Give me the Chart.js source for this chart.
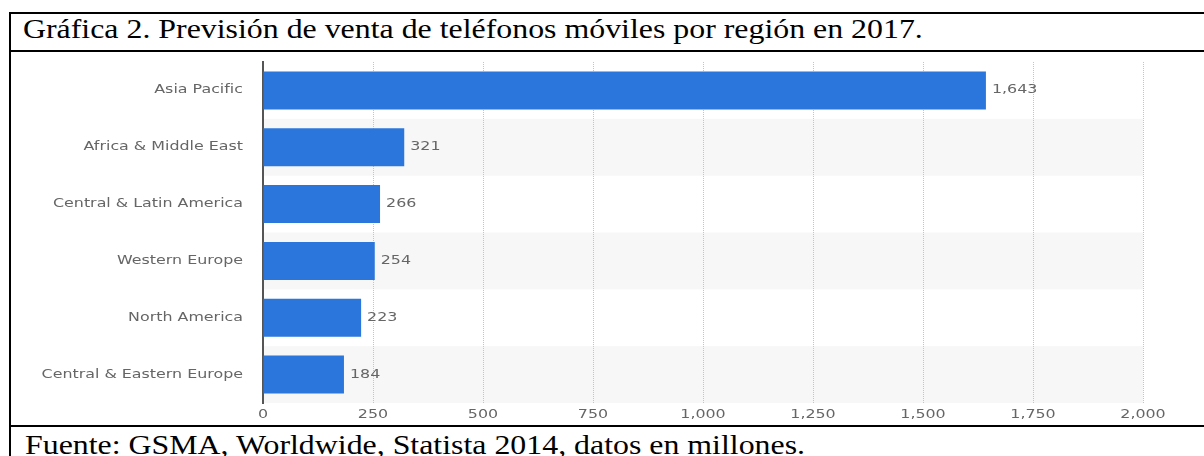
<!DOCTYPE html>
<html lang="es">
<head>
<meta charset="utf-8">
<title>Gráfica 2</title>
<script src="https://cdn.jsdelivr.net/npm/chart.js@4/dist/chart.umd.min.js"></script>
<style>
    body { margin: 0; background: #fff; width: 1204px; height: 456px; overflow: hidden; position: relative; }
    .line { position: absolute; background: #000; }
    .caption {
        position: absolute;
        font-family: "Liberation Serif", "Times New Roman", serif;
        font-size: 27px;
        line-height: 27px;
        color: #000;
        white-space: nowrap;
        transform: scaleX(1.18);
        transform-origin: left top;
    }
    #chart-box { position: absolute; left: 11px; top: 52px; width: 1193px; height: 373px; }
</style>
</head>
<body>
<div class="line" style="left:9px; top:12px; width:1195px; height:2px;"></div>
<div class="line" style="left:9px; top:12px; width:2px; height:444px;"></div>
<div class="line" style="left:9px; top:50px; width:1195px; height:2px;"></div>
<div class="line" style="left:9px; top:425px; width:1195px; height:2px;"></div>
<div class="caption" style="left:23px; top:16px;">Gráfica 2. Previsión de venta de teléfonos móviles por región en 2017.</div>
<div class="caption" style="left:25px; top:432px;">Fuente: GSMA, Worldwide, Statista 2014, datos en millones.</div>
<div id="chart-box"><canvas id="chart-canvas"></canvas></div>

<script>
const regions = [
    "Asia Pacific",
    "Africa & Middle East",
    "Central & Latin America",
    "Western Europe",
    "North America",
    "Central & Eastern Europe"
];
const sales = [1643, 321, 266, 254, 223, 184];
const axisMin = 0;
const axisMax = 2000;
const axisStep = 250;

const labelFont = { family: "'DejaVu Sans', Verdana, sans-serif", size: 11.5 };
const labelColor = "#666";
const textStretch = 1.38;

function formatNumber(value) {
    return Number(value).toLocaleString("en-US");
}

const canvas = document.getElementById("chart-canvas");

// the source screenshot is stretched sideways, so stretch every text around its anchor
const ctx2d = canvas.getContext("2d");
const plainFillText = ctx2d.fillText.bind(ctx2d);
ctx2d.fillText = function (text, x, y, maxWidth) {
    ctx2d.save();
    ctx2d.translate(x, y);
    ctx2d.scale(textStretch, 1);
    plainFillText(text, 0, 0, maxWidth);
    ctx2d.restore();
};

// alternating light bands behind the rows
const bandsPlugin = {
    id: "bands",
    beforeDraw(chart) {
        const { ctx, chartArea } = chart;
        const step = (chartArea.bottom - chartArea.top) / regions.length;
        ctx.save();
        ctx.fillStyle = "#f7f7f7";
        regions.forEach((region, i) => {
            if (i % 2 === 1) {
                ctx.fillRect(chartArea.left, chartArea.top + i * step, chartArea.right - chartArea.left, step);
            }
        });
        ctx.restore();
    }
};

// value next to each bar
const valueLabels = {
    id: "valueLabels",
    afterDatasetsDraw(chart) {
        const { ctx } = chart;
        const meta = chart.getDatasetMeta(0);
        ctx.save();
        ctx.font = `${labelFont.size}px ${labelFont.family}`;
        ctx.fillStyle = labelColor;
        ctx.textAlign = "left";
        ctx.textBaseline = "middle";
        meta.data.forEach((bar, i) => {
            ctx.fillText(formatNumber(sales[i]), bar.x + 6, bar.y);
        });
        ctx.restore();
    }
};

new Chart(canvas, {
    type: "bar",
    data: {
        labels: regions,
        datasets: [{
            data: sales,
            backgroundColor: "#2a76dc",
            borderWidth: 0,
            categoryPercentage: 1,
            barPercentage: 0.67
        }]
    },
    options: {
        indexAxis: "y",
        responsive: true,
        maintainAspectRatio: false,
        animation: false,
        devicePixelRatio: 1,
        layout: { padding: { left: 0, right: 61, top: 10, bottom: 0 } },
        plugins: {
            legend: { display: false },
            tooltip: { enabled: false }
        },
        scales: {
            x: {
                min: axisMin,
                max: axisMax,
                afterFit(scale) {
                    scale.height = 22;
                    scale.paddingLeft = 0;
                    scale.paddingRight = 0;
                },
                ticks: {
                    stepSize: axisStep,
                    padding: 5,
                    color: labelColor,
                    font: labelFont,
                    maxRotation: 0,
                    autoSkip: false,
                    callback: value => formatNumber(value)
                },
                grid: {
                    color: "#c4c4c4",
                    lineWidth: 1,
                    drawTicks: false
                },
                border: { display: false, dash: [1, 1] }
            },
            y: {
                afterFit(scale) {
                    scale.width = 252;
                    scale.paddingTop = 0;
                    scale.paddingBottom = 0;
                },
                ticks: {
                    padding: 20,
                    color: labelColor,
                    font: labelFont
                },
                grid: { display: false, drawTicks: false },
                border: { display: true, color: "#555", width: 2 }
            }
        }
    },
    plugins: [bandsPlugin, valueLabels]
});
</script>
</body>
</html>
